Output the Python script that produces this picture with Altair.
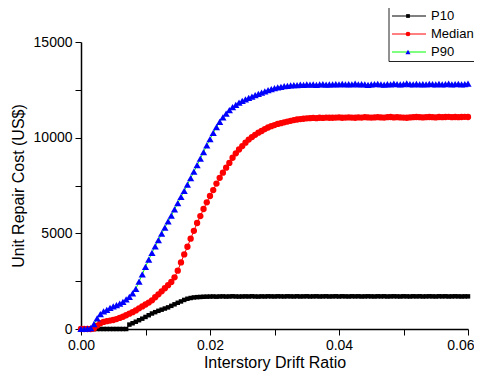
import altair as alt
import pandas as pd

# ---- data ----
drift = [round(i * 0.0005, 4) for i in range(121)]

p10 = [
    0, 0, 0, 0, 0, 0, 0, 0, 0, 0,
    0, 0, 0, 0, 0, 230, 300, 380, 460, 540,
    630, 720, 810, 880, 950, 1010, 1070, 1130, 1210, 1290,
    1370, 1440, 1520, 1580, 1620, 1650, 1665, 1675, 1685, 1690,
    1695, 1700, 1690, 1700, 1705, 1695, 1700, 1710, 1700, 1695,
    1700, 1705, 1700, 1710, 1700, 1695, 1705, 1700, 1710, 1705,
    1700, 1710, 1705, 1700, 1710, 1705, 1700, 1710, 1700, 1705,
    1710, 1700, 1705, 1710, 1700, 1705, 1710, 1700, 1705, 1710,
    1700, 1710, 1705, 1700, 1710, 1705, 1710, 1700, 1705, 1710,
    1705, 1700, 1710, 1705, 1710, 1700, 1705, 1710, 1705, 1700,
    1710, 1705, 1700, 1710, 1705, 1710, 1700, 1705, 1710, 1705,
    1700, 1710, 1705, 1710, 1700, 1705, 1710, 1705, 1700, 1705,
    1705,
]

median = [
    0, 0, 0, 0, 20, 180, 300, 370, 410, 440,
    470, 520, 580, 640, 720, 800, 880, 970, 1080, 1180,
    1280, 1380, 1500, 1660, 1810, 1970, 2130, 2290, 2460, 2700,
    3050, 3480, 3900, 4300, 4720, 5130, 5540, 5900, 6270, 6620,
    6950, 7260, 7600, 7900, 8170, 8430, 8680, 8950, 9180, 9380,
    9560, 9740, 9900, 10030, 10150, 10260, 10350, 10450, 10530, 10600,
    10660, 10720, 10760, 10800, 10840, 10880, 10920, 10950, 10970, 10990,
    11010, 11020, 11030, 11020, 11040, 11030, 11050, 11040, 11040, 11050,
    11060, 11040, 11050, 11060, 11050, 11040, 11060, 11050, 11070, 11060,
    11050, 11060, 11070, 11060, 11050, 11070, 11080, 11060, 11070, 11060,
    11050, 11040, 11060, 11070, 11080, 11070, 11060, 11070, 11080, 11070,
    11060, 11080, 11070, 11080, 11090, 11070, 11080, 11070, 11080, 11090,
    11080,
]

p90 = [
    0, 0, 20, 40, 250, 550, 780, 920, 1000, 1100,
    1180, 1250, 1320, 1420, 1550, 1680, 1860, 2100, 2480, 2850,
    3250, 3620, 3980, 4320, 4650, 4980, 5300, 5620, 5930, 6250,
    6580, 6900, 7220, 7550, 7880, 8220, 8560, 8900, 9250, 9600,
    9920, 10250, 10550, 10820, 11060, 11260, 11440, 11590, 11720, 11830,
    11920, 12000, 12080, 12150, 12220, 12290, 12350, 12420, 12480, 12540,
    12590, 12630, 12660, 12690, 12710, 12730, 12750, 12740, 12770, 12760,
    12780, 12770, 12790, 12760, 12780, 12800, 12770, 12790, 12780, 12800,
    12790, 12810, 12780, 12800, 12790, 12820, 12790, 12800, 12780, 12760,
    12790, 12800, 12810, 12790, 12770, 12800, 12790, 12820, 12800, 12780,
    12800, 12840, 12800, 12780, 12810, 12790, 12800, 12780, 12810, 12800,
    12790, 12810, 12780, 12800, 12820, 12790, 12800, 12810, 12790, 12800,
    12830,
]

series_names = ["P10", "Median", "P90"]
series_values = [p10, median, p90]
x_ticks = [0.0, 0.01, 0.02, 0.03, 0.04, 0.05, 0.06]
y_ticks = [0, 2500, 5000, 7500, 10000, 12500, 15000]

# ---- styles ----
line_colors = ["#000000", "#ff0000", "#00ff00"]
marker_colors = ["#000000", "#ff0000", "#0000ff"]
marker_shapes = ["square", "circle", "triangle-up"]
marker_sizes = [20, 40, 52]
legend_marker_sizes = [14, 22, 26]
FONT = "Liberation Sans"

x_axis = alt.Axis(
    title="Interstory Drift Ratio", values=x_ticks, format=".2f",
    labelExpr="round(datum.value * 100) % 2 == 0 ? datum.label : ''",
    labelAlign={"condition": {"test": "datum.value > 0.059", "value": "right"}, "value": "center"},
    labelOffset={"condition": {"test": "datum.value > 0.059", "value": 6}, "value": 0},
    grid=False, tickSize=6, tickColor="#000", tickWidth=1,
    domainColor="#000", domainWidth=1.5,
    labelColor="#000", labelFont=FONT, labelFontSize=14, labelPadding=3,
    labelFlush=False, labelOverlap=False,
    titleFont=FONT, titleFontSize=16, titleFontWeight="normal",
    titleColor="#000", titlePadding=2,
)
y_axis = alt.Axis(
    title="Unit Repair Cost (US$)", values=y_ticks, format="d",
    labelExpr="datum.value % 5000 == 0 ? datum.label : ''",
    grid=False, tickSize=6, tickColor="#000", tickWidth=1,
    domainColor="#000", domainWidth=1.5,
    labelColor="#000", labelFont=FONT, labelFontSize=14, labelPadding=3,
    labelFlush=False, labelOverlap=False,
    titleFont=FONT, titleFontSize=16, titleFontWeight="normal",
    titleColor="#000", titlePadding=7,
)
x_enc = alt.X("drift:Q", scale=alt.Scale(domain=[0, 0.06], nice=False, zero=False), axis=x_axis)
y_enc = alt.Y("cost:Q", scale=alt.Scale(domain=[0, 15000], nice=False), axis=y_axis)

layers = []
for name, vals, lc, mc, shp, sz in zip(series_names, series_values, line_colors,
                                       marker_colors, marker_shapes, marker_sizes):
    d = pd.DataFrame({"drift": drift, "cost": vals, "series": name})
    base = alt.Chart(d)
    layers.append(base.mark_line(color=lc, strokeWidth=1).encode(x=x_enc, y=y_enc))
    layers.append(base.mark_point(shape=shp, filled=True, size=sz, color=mc,
                                  opacity=1, strokeWidth=0).encode(x=x_enc, y=y_enc))

# ---- legend box (top right, running off the page edge like the reference) ----
box = alt.Chart(pd.DataFrame({"k": [0]})).mark_rect(
    fill="white", stroke="#222", strokeWidth=1
).encode(x=alt.value(308), x2=alt.value(460), y=alt.value(-60), y2=alt.value(19.5))
layers.append(box)

legend_rows_y = [-26, -8, 10]
for name, lc, mc, shp, lsz, ly in zip(series_names, line_colors, marker_colors,
                                      marker_shapes, legend_marker_sizes, legend_rows_y):
    ld = alt.Chart(pd.DataFrame({"label": [name]}))
    layers.append(ld.mark_rule(color=lc, strokeWidth=1).encode(
        x=alt.value(311), x2=alt.value(345), y=alt.value(ly)))
    layers.append(ld.mark_point(shape=shp, filled=True, size=lsz, color=mc,
                                opacity=1, strokeWidth=0).encode(
        x=alt.value(327), y=alt.value(ly)))
    layers.append(ld.mark_text(align="left", baseline="middle", font=FONT,
                               fontSize=13, color="#000").encode(
        x=alt.value(350), y=alt.value(ly), text="label:N"))

chart = alt.layer(*layers).properties(
    width=387, height=287,
    autosize=alt.AutoSizeParams(type="none"),
    padding={"left": 73, "top": 34, "right": 6, "bottom": 42},
).configure_view(stroke=None)

chart.save("out.html", embed_options={"renderer": "svg", "actions": False})
